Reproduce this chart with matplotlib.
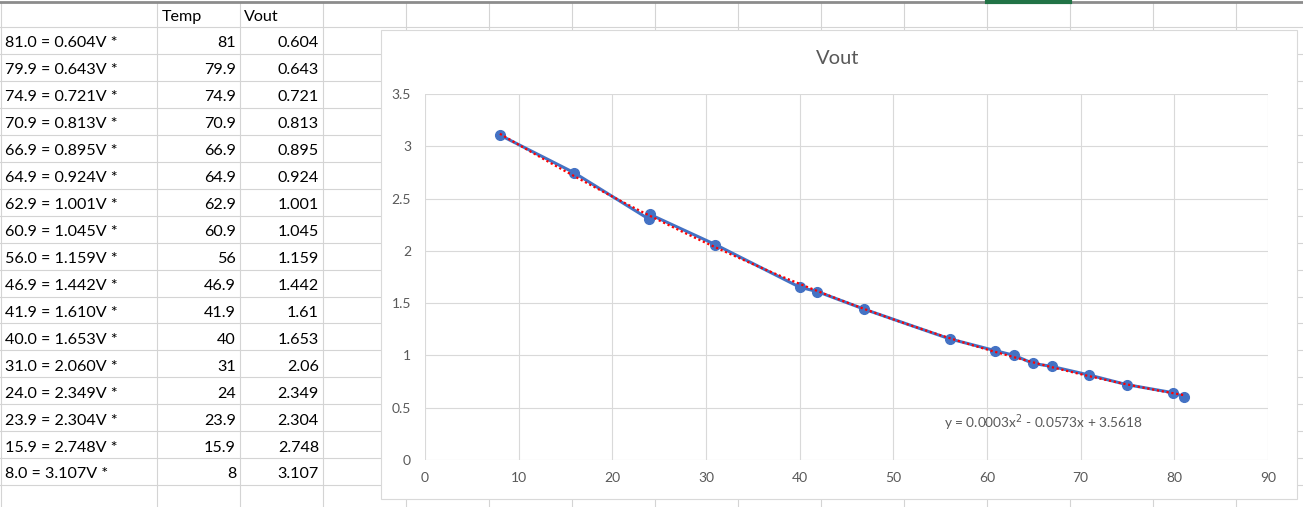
import numpy as np
import matplotlib.pyplot as plt
from matplotlib.patches import Rectangle
from matplotlib.ticker import FuncFormatter

plt.rcParams['font.family'] = ['Lato', 'DejaVu Sans']

# data from the sheet
temp = [81, 79.9, 74.9, 70.9, 66.9, 64.9, 62.9, 60.9, 56, 46.9, 41.9, 40, 31, 24, 23.9, 15.9, 8]
vout = [0.604, 0.643, 0.721, 0.813, 0.895, 0.924, 1.001, 1.045, 1.159, 1.442, 1.61, 1.653,
        2.06, 2.349, 2.304, 2.748, 3.107]
headers = ['Temp', 'Vout']
x_ticks = [0, 10, 20, 30, 40, 50, 60, 70, 80, 90]
y_ticks = [0, 0.5, 1, 1.5, 2, 2.5, 3, 3.5]
chart_title = 'Vout'
trend_label = 'y = 0.0003x$^{2}$ - 0.0573x + 3.5618'

W, H = 1303, 507
fig = plt.figure(figsize=(W / 100, H / 100), dpi=100)

# spreadsheet background in pixel coordinates
bg = fig.add_axes([0, 0, 1, 1])
bg.set_xlim(0, W)
bg.set_ylim(H, 0)
bg.axis('off')

grid_col = '#d4d4d4'
col_lines = [1, 157, 240, 323] + [406 + 83 * i for i in range(12)]
row_h = 26.95
row_lines = [27 + row_h * k for k in range(19)]
for x in col_lines:
    bg.plot([x, x], [3, H], color=grid_col, lw=0.8)
for y in row_lines:
    bg.plot([0, W], [y, y], color=grid_col, lw=0.8)
bg.plot([0, W], [1.5, 1.5], color='#8c8c8c', lw=2)
bg.plot([987, 1070], [1.5, 1.5], color='#217346', lw=3)

txt_size = 11.6
bg.text(162, 21, headers[0], fontsize=txt_size, va='baseline', ha='left')
bg.text(244, 21, headers[1], fontsize=txt_size, va='baseline', ha='left')
for i, (t, v) in enumerate(zip(temp, vout)):
    yb = 27 + row_h * i + 20.3
    bg.text(5, yb, f'{t:.1f} = {v:.3f}V *', fontsize=txt_size, va='baseline', ha='left')
    bg.text(236, yb, f'{t:g}', fontsize=txt_size, va='baseline', ha='right')
    bg.text(319, yb, f'{v:g}', fontsize=txt_size, va='baseline', ha='right')

# chart box
bg.add_patch(Rectangle((381, 30), 916, 469, facecolor='white', edgecolor='#d9d9d9', lw=0.8, zorder=5))
bg.text(838, 59, chart_title, fontsize=14.5, color='#595959', ha='center', va='center', zorder=6)

# plot area
ax = fig.add_axes([425 / W, (H - 460) / H, 843 / W, 366 / H], zorder=10)
ax.set_xlim(0, 90)
ax.set_ylim(0, 3.5)
ax.set_xticks(x_ticks)
ax.set_yticks(y_ticks)
ax.grid(True, color='#d9d9d9', lw=0.8)
ax.set_axisbelow(True)
for s in ax.spines.values():
    s.set_visible(False)
ax.tick_params(length=0, labelsize=10, labelcolor='#595959')
ax.tick_params(axis='y', pad=10)
ax.tick_params(axis='x', pad=9)
ax.xaxis.set_major_formatter(FuncFormatter(lambda v, p: f'{v:g}'))
ax.yaxis.set_major_formatter(FuncFormatter(lambda v, p: f'{v:g}'))
ax.patch.set_alpha(0)

ax.plot(temp, vout, color='#4472c4', lw=2.2, marker='o', ms=7, zorder=3)

coef = np.polyfit(temp, vout, 2)
xt = np.linspace(min(temp), max(temp), 200)
ax.plot(xt, np.polyval(coef, xt), color='#ff0000', lw=1.6, ls=(0, (1, 1.2)), zorder=4)

ax.text(66, 0.36, trend_label, fontsize=9.8, color='#595959', ha='center', va='center')

fig.savefig('out.png', dpi=100)
